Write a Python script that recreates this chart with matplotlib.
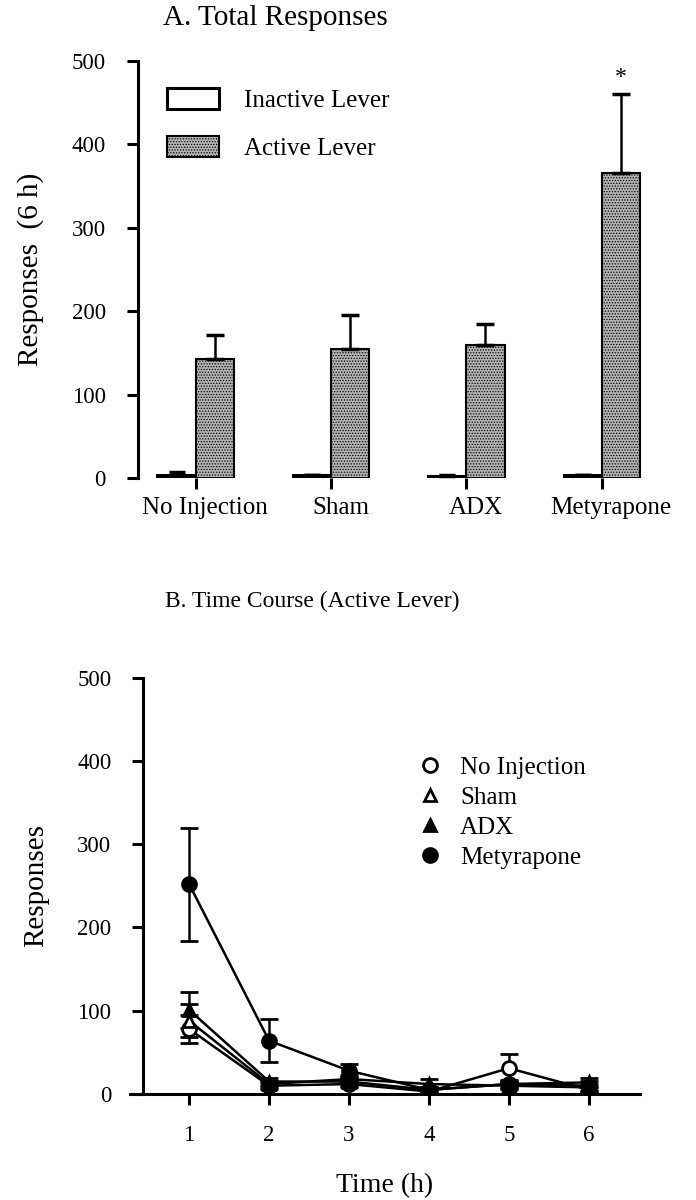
import numpy as np
import matplotlib.pyplot as plt
from matplotlib.patches import Patch
from matplotlib.lines import Line2D

plt.rcParams['font.family'] = ['Liberation Serif', 'DejaVu Serif']
plt.rcParams['hatch.color'] = '#505050'
plt.rcParams['hatch.linewidth'] = 0.6

# panel A data
groups = ['No Injection', 'Sham', 'ADX', 'Metyrapone']
inactive = [4, 3, 2, 3]
inactive_err = [3, 1, 1, 1]
active = [143, 155, 160, 366]
active_err = [29, 40, 25, 94]

# panel B data
hours = [1, 2, 3, 4, 5, 6]
no_inj = [78, 10, 12, 3, 31, 5]
no_inj_err = [17, 4, 4, 3, 17, 4]
sham = [88, 12, 18, 12, 10, 8]
sham_err = [20, 4, 5, 6, 4, 4]
adx = [101, 15, 15, 5, 12, 14]
adx_err = [22, 4, 5, 3, 4, 5]
mety = [252, 64, 28, 5, 12, 10]
mety_err = [68, 26, 8, 3, 5, 6]

fig = plt.figure(figsize=(6.96, 12), dpi=100)

# ---------------- A. Total Responses
ax1 = fig.add_axes([0.198, 0.6017, 0.76, 0.3475])
x = np.arange(len(groups))
w = 0.282
ax1.bar(x, inactive, width=-w, align='edge', color='white', edgecolor='black', linewidth=2.2)
ax1.errorbar(x - w / 2, inactive, yerr=[np.zeros(4), inactive_err], fmt='none',
             ecolor='black', elinewidth=1.5, capsize=6, capthick=2.5)
ax1.bar(x, active, width=w, align='edge', color='#b4b4b4', edgecolor='black', linewidth=1.5,
        hatch='......')
ax1.errorbar(x + w / 2, active, yerr=[np.zeros(4), active_err], fmt='none',
             ecolor='black', elinewidth=1.8, capsize=6.5, capthick=2.5)
ax1.text(x[3] + w / 2, active[3] + active_err[3] + 8, '*', ha='center', va='bottom', fontsize=17)

ax1.set_xlim(-0.427, 3.48)
ax1.set_ylim(0, 500)
ax1.set_yticks([0, 100, 200, 300, 400, 500])
# tick marks at the bar boundary, names a little to the right (minor ticks, no mark)
ax1.set_xticks(x)
ax1.set_xticklabels([])
ax1.set_xticks(x + 0.07, minor=True)
ax1.set_xticklabels(groups, minor=True)
for s in ['top', 'right', 'bottom']:
    ax1.spines[s].set_visible(False)
ax1.spines['left'].set_linewidth(2.2)
ax1.tick_params(axis='both', width=2.2, length=8)
ax1.tick_params(axis='y', labelsize=16.5, pad=15)
ax1.tick_params(axis='x', which='minor', length=0, labelsize=18, pad=14)
ax1.set_ylabel('Responses  (6 h)', fontsize=21, labelpad=20)
fig.text(163 / 696, 1 - 18 / 1200, 'A. Total Responses', fontsize=21, ha='left', va='center')

handles = [Patch(facecolor='white', edgecolor='black', linewidth=2.2),
           Patch(facecolor='#b4b4b4', edgecolor='black', linewidth=1.5, hatch='......')]
ax1.legend(handles, ['Inactive Lever', 'Active Lever'], loc='upper left',
           bbox_to_anchor=(0.012, 0.99), frameon=False, fontsize=18,
           handlelength=2.1, handleheight=0.95, labelspacing=0.95, handletextpad=1.0)

# ---------------- B. Time Course
ax2 = fig.add_axes([0.1868, 0.0883, 0.7328, 0.347])
series = [(no_inj, no_inj_err, 'o', 'white', 'No Injection'),
          (sham, sham_err, '^', 'white', 'Sham'),
          (adx, adx_err, '^', 'black', 'ADX'),
          (mety, mety_err, 'o', 'black', 'Metyrapone')]
for vals, errs, m, fc, lab in series:
    ax2.errorbar(hours, vals, yerr=errs, fmt='-', marker=m, color='black', mfc=fc, mec='black',
                 mew=2, ms=10 if m == 'o' else 9, lw=1.8, elinewidth=1.8, capsize=6.5,
                 capthick=2.5, label=lab)

ax2.set_xlim(0.26, 6.64)
ax2.set_ylim(0, 500)
ax2.set_xticks(hours)
ax2.set_yticks([0, 100, 200, 300, 400, 500])
ax2.spines['left'].set_position(('data', 0.425))
for s in ['top', 'right']:
    ax2.spines[s].set_visible(False)
ax2.spines['left'].set_linewidth(2.2)
ax2.spines['bottom'].set_linewidth(2.2)
ax2.tick_params(axis='both', width=2.2, length=8, labelsize=16.5)
ax2.tick_params(axis='y', pad=15)
ax2.tick_params(axis='x', pad=14)
ax2.set_ylabel('Responses', fontsize=21, labelpad=20)
ax2.set_xlabel('Time (h)', fontsize=20, labelpad=20)
fig.text(165 / 696, 1 - 601 / 1200, 'B. Time Course (Active Lever)', fontsize=17,
         ha='left', va='center')

leg_handles = [Line2D([], [], ls='none', marker=m, mfc=fc, mec='black', mew=2,
                      ms=10 if m == 'o' else 9)
               for _, _, m, fc, _ in series]
ax2.legend(leg_handles, [s[4] for s in series], loc='upper left', bbox_to_anchor=(0.52, 0.865),
           frameon=False, fontsize=18, handlelength=1.0, labelspacing=0.3, handletextpad=0.7)

fig.savefig('out.png', dpi=100)
